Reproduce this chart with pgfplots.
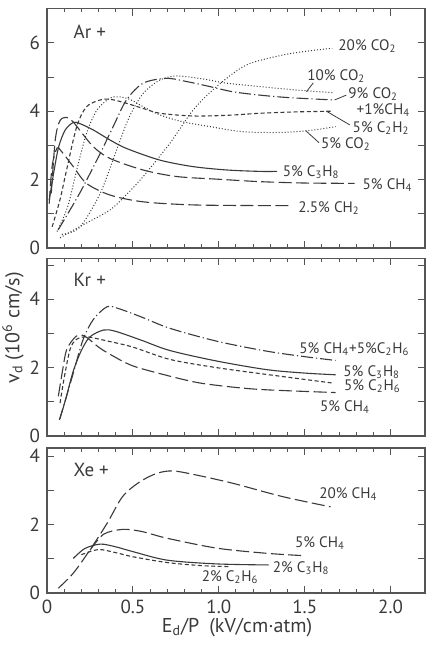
\documentclass[border=0pt]{standalone}
\usepackage{fontspec}
\setmainfont{PT Sans}
\usepackage{pgfplots}
\pgfplotsset{compat=1.18}
\definecolor{ink}{HTML}{3A3A3A}
\definecolor{framec}{HTML}{555555}
\newcommand{\lab}{\fontsize{7.6}{8}\selectfont}
\tikzset{
  longdash/.style={dash pattern=on 6.5pt off 2.2pt},
  shortdash/.style={dash pattern=on 2pt off 1.3pt},
  dashdot/.style={dash pattern=on 6pt off 1.5pt on 0.6pt off 1.5pt},
  dots/.style={dash pattern=on 0.5pt off 1pt, line width=0.5pt},
  lbl/.style={anchor=west, inner sep=0pt, font=\lab, text=ink},
}
\pgfplotsset{
  panel/.style={
    scale only axis, width=189pt, xmin=0, xmax=2.2, ymin=0,
    anchor=south west,
    axis line style={framec, line width=0.6pt},
    tick style={framec, line width=0.5pt},
    tick align=inside,
    major tick length=3.5pt, minor tick length=1.8pt,
    xtick={0,0.5,1,1.5,2}, minor x tick num=4,
    xticklabels={},
    /pgf/number format/assume math mode=true,
    tick label style={font=\fontsize{9.5}{10}\selectfont, text=ink},
    every axis plot/.append style={ink, line width=0.55pt, smooth, no markers},
  }
}
\begin{document}
\begin{tikzpicture}
\path[use as bounding box] (-23.5pt,-28pt) rectangle (190.5pt,296.5pt);

% ---------------- Ar+ ----------------
\begin{axis}[panel, at={(0pt,172.5pt)}, height=119.7pt, ymax=7,
  ytick={0,1,...,7}, yticklabels={0,,2,,4,,6,}]
% 5% C3H8
\addplot[solid] coordinates {(0.013,1.4) (0.039,2.2) (0.068,2.96) (0.106,3.45) (0.153,3.67) (0.19,3.64) (0.27,3.45) (0.366,3.16) (0.463,2.91) (0.657,2.57) (0.85,2.38) (1.05,2.28) (1.24,2.24) (1.34,2.24)};
% 5% CH4
\addplot[longdash] coordinates {(0.025,1.6) (0.048,3.16) (0.075,3.72) (0.114,3.82) (0.15,3.7) (0.19,3.45) (0.27,2.96) (0.366,2.62) (0.56,2.28) (0.754,2.09) (1.0,2.01) (1.24,1.94) (1.5,1.9) (1.79,1.89)};
% 2.5% CH2
\addplot[longdash] coordinates {(0.013,1.3) (0.03,2.4) (0.058,2.92) (0.08,2.85) (0.153,2.38) (0.23,1.89) (0.366,1.55) (0.56,1.35) (0.85,1.26) (1.24,1.24) (1.41,1.24)};
% 5% C2H2
\addplot[shortdash] coordinates {(0.03,0.62) (0.075,1.4) (0.114,2.28) (0.173,3.55) (0.23,4.13) (0.31,4.33) (0.366,4.35) (0.45,4.25) (0.56,4.08) (0.657,3.94) (0.85,3.86) (1.05,3.88) (1.24,3.94) (1.45,3.98) (1.66,4.0)};
% 5% CO2
\addplot[dots] coordinates {(0.058,0.48) (0.12,1.2) (0.173,2.28) (0.23,3.35) (0.29,4.03) (0.366,4.38) (0.424,4.42) (0.49,4.33) (0.56,4.13) (0.657,3.89) (0.79,3.69) (0.948,3.55) (1.14,3.4) (1.37,3.38) (1.55,3.45) (1.68,3.55)};
% 10% CO2
\addplot[dots] coordinates {(0.087,0.4) (0.19,0.6) (0.31,1.6) (0.405,2.87) (0.48,3.84) (0.56,4.52) (0.657,4.91) (0.754,5.03) (0.9,4.95) (1.045,4.82) (1.24,4.72) (1.45,4.62) (1.67,4.54)};
% 9% CO2 + 1% CH4
\addplot[dashdot] coordinates {(0.065,0.53) (0.19,1.6) (0.31,2.77) (0.385,3.55) (0.463,4.33) (0.56,4.82) (0.696,4.96) (0.82,4.86) (0.948,4.72) (1.08,4.57) (1.24,4.47) (1.4,4.4) (1.66,4.33)};
% 20% CO2
\addplot[dots] coordinates {(0.076,0.3) (0.2,0.65) (0.366,1.11) (0.46,1.55) (0.56,2.09) (0.715,3.06) (0.85,4.03) (0.987,4.72) (1.16,5.35) (1.37,5.64) (1.52,5.76) (1.66,5.84)};
% labels
\node[lbl] at (axis cs:0.153,6.32) {\fontsize{9.5}{10}\selectfont Ar +};
\node[lbl] at (axis cs:1.694,5.91) {20\% CO\textsubscript{2}};
\node[lbl] at (axis cs:1.513,5.03) {10\% CO\textsubscript{2}};
\node[lbl] at (axis cs:1.752,4.50) {9\% CO\textsubscript{2}};
\node[lbl] at (axis cs:1.80,4.04) {+1\%CH\textsubscript{4}};
\node[lbl] at (axis cs:1.777,3.52) {5\% C\textsubscript{2}H\textsubscript{2}};
\node[lbl] at (axis cs:1.593,3.04) {5\% CO\textsubscript{2}};
\node[lbl] at (axis cs:1.37,2.23) {5\% C\textsubscript{3}H\textsubscript{8}};
\node[lbl] at (axis cs:1.835,1.84) {5\% CH\textsubscript{4}};
\node[lbl] at (axis cs:1.461,1.18) {2.5\% CH\textsubscript{2}};
\draw[ink, line width=0.4pt] (axis cs:1.51,4.57) -- (axis cs:1.55,4.83);
\draw[ink, line width=0.4pt] (axis cs:1.674,4.33) -- (axis cs:1.742,4.47);
\draw[ink, line width=0.4pt] (axis cs:1.626,4.0) -- (axis cs:1.762,3.6);
\draw[ink, line width=0.4pt] (axis cs:1.506,3.43) -- (axis cs:1.583,3.08);
\end{axis}

% ---------------- Kr+ ----------------
\begin{axis}[panel, at={(0pt,78.5pt)}, height=88.9pt, ymax=5.2,
  ytick={0,1,...,5}, yticklabels={0,,2,,4,}]
\addplot[dashdot] coordinates {(0.072,0.47) (0.11,1.1) (0.153,1.84) (0.21,2.82) (0.27,3.41) (0.35,3.78) (0.42,3.72) (0.55,3.48) (0.715,3.15) (0.99,2.77) (1.28,2.48) (1.5,2.32) (1.68,2.21)};
\addplot[solid] coordinates {(0.075,0.5) (0.11,1.1) (0.153,1.9) (0.2,2.5) (0.25,2.9) (0.33,3.1) (0.4,3.06) (0.55,2.8) (0.715,2.5) (0.99,2.19) (1.28,1.94) (1.5,1.84) (1.68,1.79)};
\addplot[shortdash] coordinates {(0.076,0.96) (0.1,1.7) (0.134,2.53) (0.17,2.82) (0.23,2.9) (0.35,2.78) (0.5,2.6) (0.715,2.24) (1.0,1.99) (1.37,1.74) (1.66,1.55)};
\addplot[longdash] coordinates {(0.066,1.16) (0.09,1.9) (0.115,2.53) (0.17,2.92) (0.22,2.92) (0.3,2.6) (0.37,2.38) (0.5,2.05) (0.715,1.75) (0.89,1.55) (1.1,1.42) (1.28,1.35) (1.68,1.27)};
\node[lbl] at (axis cs:0.153,4.57) {\fontsize{9.5}{10}\selectfont Kr +};
\node[lbl] at (axis cs:1.467,2.55) {5\% CH\textsubscript{4}+5\%C\textsubscript{2}H\textsubscript{6}};
\node[lbl] at (axis cs:1.723,1.86) {5\% C\textsubscript{3}H\textsubscript{8}};
\node[lbl] at (axis cs:1.727,1.47) {5\% C\textsubscript{2}H\textsubscript{6}};
\node[lbl] at (axis cs:1.587,0.84) {5\% CH\textsubscript{4}};
\end{axis}

% ---------------- Xe+ ----------------
\begin{axis}[panel, at={(0pt,0pt)}, height=72.5pt, ymax=4.24,
  ytick={0,1,...,4}, yticklabels={0,,2,,4},
  xticklabels={0,0.5,1.0,1.5,2.0}]
\addplot[longdash] coordinates {(0.066,0.14) (0.153,0.58) (0.25,1.26) (0.35,2.04) (0.44,2.82) (0.54,3.25) (0.64,3.5) (0.73,3.57) (0.85,3.47) (1.08,3.21) (1.37,2.82) (1.65,2.52)};
\addplot[longdash] coordinates {(0.25,1.25) (0.33,1.72) (0.44,1.86) (0.55,1.8) (0.7,1.6) (0.99,1.31) (1.28,1.16) (1.5,1.09)};
\addplot[solid] coordinates {(0.153,1.01) (0.22,1.3) (0.31,1.43) (0.4,1.35) (0.5,1.21) (0.7,0.96) (0.99,0.85) (1.29,0.82)};
\addplot[shortdash] coordinates {(0.2,1.12) (0.3,1.27) (0.4,1.18) (0.5,1.06) (0.7,0.89) (0.9,0.8) (1.07,0.77)};
\node[lbl] at (axis cs:0.153,3.6) {\fontsize{9.5}{10}\selectfont Xe +};
\node[lbl] at (axis cs:1.583,2.89) {20\% CH\textsubscript{4}};
\node[lbl] at (axis cs:1.442,1.45) {5\% CH\textsubscript{4}};
\node[lbl] at (axis cs:1.312,0.72) {2\% C\textsubscript{3}H\textsubscript{8}};
\node[lbl] at (axis cs:0.899,0.45) {2\% C\textsubscript{2}H\textsubscript{6}};
\end{axis}

\node[rotate=90, font=\fontsize{10}{11}\selectfont, text=ink] at (-17pt,132.5pt) {v\textsubscript{d} (10\textsuperscript{6} cm/s)};
\node[font=\fontsize{10}{11}\selectfont, text=ink] at (95pt,-17.5pt) {E\textsubscript{d}/P\enspace(kV/cm·atm)};
\end{tikzpicture}
\end{document}
